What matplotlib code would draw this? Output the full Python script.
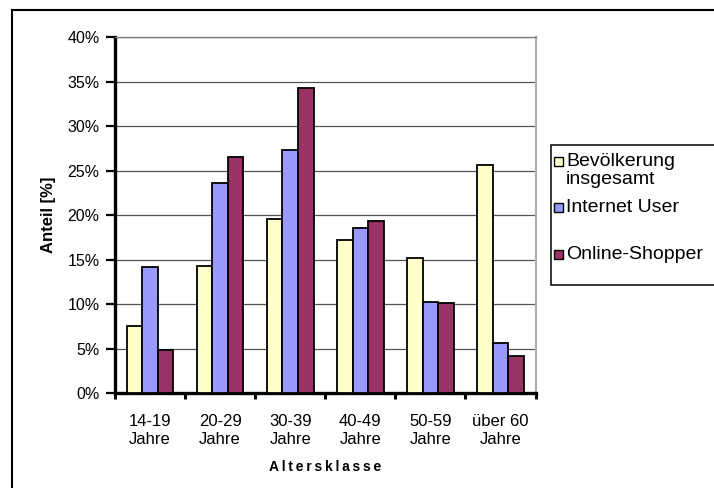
import numpy as np
import matplotlib
matplotlib.use("Agg")
import matplotlib.pyplot as plt
from matplotlib.patches import Rectangle
from matplotlib.lines import Line2D
from matplotlib.ticker import FixedLocator, FuncFormatter

plt.rcParams['font.family'] = ['Liberation Sans', 'DejaVu Sans']

# Altersverteilung in Prozent
klassen = ["14-19\nJahre", "20-29\nJahre", "30-39\nJahre", "40-49\nJahre", "50-59\nJahre", "über 60\nJahre"]
bevoelkerung = [7.6, 14.3, 19.6, 17.2, 15.2, 25.7]
internet_user = [14.2, 23.6, 27.3, 18.6, 10.3, 5.7]
online_shopper = [4.9, 26.6, 34.3, 19.4, 10.2, 4.2]

serien = ["Bevölkerung\ninsgesamt", "Internet User", "Online-Shopper"]
farben = ["#FFFFCC", "#9999FF", "#993366"]


def gesperrt(text):
    # Buchstaben mit schmalem Leerraum auseinanderziehen
    return "\u2009".join(text)


W, H = 714, 488
fig = plt.figure(figsize=(W / 100, H / 100), dpi=100)
fig.patch.set_facecolor("white")

# Plotbereich in Pixeln
left, right, top, bottom = 115, 535.5, 37.3, 393.3
ax = fig.add_axes([left / W, 1 - bottom / H, (right - left) / W, (bottom - top) / H])

x = np.arange(len(klassen))
bw = 1 / 4.5
for i, (werte, farbe) in enumerate(zip([bevoelkerung, internet_user, online_shopper], farben)):
    ax.bar(x + (i - 1) * bw, werte, width=bw, color=farbe, edgecolor="black",
           linewidth=1.3, zorder=3)

ax.set_xlim(-0.5, len(klassen) - 0.5)
ax.set_ylim(0, 40)
ax.set_yticks(np.arange(0, 41, 5))
ax.yaxis.set_major_formatter(FuncFormatter(lambda v, p: f"{v:.0f}%"))
ax.yaxis.grid(True, color="#555555", linewidth=0.9, zorder=0)
ax.set_axisbelow(True)

# Striche an den Klassengrenzen, Beschriftung in der Mitte
ax.xaxis.set_major_locator(FixedLocator(np.arange(-0.5, len(klassen), 1)))
ax.xaxis.set_major_formatter(FuncFormatter(lambda v, p: ""))
ax.xaxis.set_minor_locator(FixedLocator(x))
ax.set_xticklabels(klassen, minor=True)
ax.tick_params(axis="x", which="minor", length=0, pad=15, labelsize=12)
ax.tick_params(axis="x", which="major", length=4, width=2.2, direction="out", color="black")
ax.tick_params(axis="y", length=6.5, width=1.6, direction="out", color="black", labelsize=11.5, pad=4.5)
for lbl in ax.get_xticklabels(minor=True):
    lbl.set_linespacing(1.2)

ax.spines["left"].set_linewidth(2.4)
ax.spines["bottom"].set_linewidth(2.4)
ax.spines["top"].set_color("#808080")
ax.spines["top"].set_linewidth(1.0)
ax.spines["right"].set_color("#B0B0B0")
ax.spines["right"].set_linewidth(1.6)

ax.set_xlabel(gesperrt("Altersklasse"), fontsize=10, fontweight="bold", labelpad=10)
ax.set_ylabel("Anteil [%]", fontsize=12, fontweight="bold", labelpad=8)

# Rahmen um das Diagramm
fig.add_artist(Line2D([12 / W, 12 / W], [0, 1 - 10 / H], color="black", linewidth=1.5,
                      transform=fig.transFigure))
fig.add_artist(Line2D([12 / W, 1], [1 - 10 / H, 1 - 10 / H], color="black", linewidth=1.5,
                      transform=fig.transFigure))

# Legende
fig.add_artist(Rectangle((551 / W, 1 - 285 / H), (W + 10 - 551) / W, 140 / H,
                         transform=fig.transFigure, facecolor="white", edgecolor="black",
                         linewidth=1.1))
oberkanten = [157, 203, 250]
for name, farbe, yy in zip(serien, farben, oberkanten):
    fig.add_artist(Rectangle((554 / W, 1 - (yy + 9) / H), 9 / W, 9 / H,
                             transform=fig.transFigure, facecolor=farbe,
                             edgecolor="black", linewidth=1.0))
    fig.text(566 / W, 1 - (yy - 4) / H, name, fontsize=14, va="top", ha="left",
             linespacing=1.1)

fig.savefig("out.png", dpi=100, facecolor="white")
